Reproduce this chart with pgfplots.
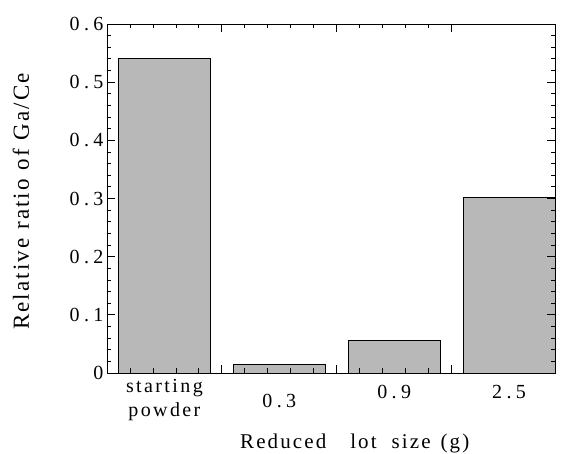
\documentclass[border=0pt]{standalone}
\usepackage{fontspec}
\setmainfont{Liberation Serif}
\newfontfamily\tickfont{Liberation Serif}[LetterSpace=22]
\newfontfamily\wordfont{Liberation Serif}[LetterSpace=12]
\newfontfamily\xlabfont{Liberation Serif}[LetterSpace=10]
\newfontfamily\ylabfont{Liberation Serif}[LetterSpace=9]
\usepackage{pgfplots}
\pgfplotsset{compat=1.18}
\definecolor{barfill}{RGB}{184,184,184}
\pgfplotstableread{
x   y
0.5 0.541
1.5 0.015
2.5 0.056
3.5 0.302
}\ratiodata
\begin{document}
\begin{tikzpicture}
\begin{axis}[
  scale only axis, width=448pt, height=349pt,
  xmin=0, xmax=3.9, ymin=0, ymax=0.6,
  axis on top,
  axis line style={line width=0.9pt},
  tick align=inside,
  major tick length=8pt, minor tick length=4.5pt,
  every tick/.style={black, line width=0.8pt},
  xtick={0,1,2,3}, xticklabels={},
  minor x tick num=4,
  ytick={0,0.1,0.2,0.3,0.4,0.5,0.6},
  yticklabels={0,0.1,0.2,0.3,0.4,0.5,0.6},
  minor y tick num=4,
  ticklabel style={font=\tickfont\fontsize{20}{24}\selectfont},
  yticklabel style={xshift=0pt},
  extra x ticks={0.5,1.5,2.5,3.5},
  extra x tick labels={
    {\raisebox{6pt}{\wordfont\begin{tabular}[t]{@{}c@{}}starting\\powder\end{tabular}}},
    {\raisebox{-9pt}{0.3}},
    {0.9},
    {2.5}},
  extra x tick style={major tick length=0pt,
    xticklabel style={anchor=base, yshift=-26pt, inner sep=0pt}},
  xlabel={Reduced\hspace{24pt}lot\hspace{15pt}size\hspace{10pt}(g)},
  xlabel style={font=\xlabfont\fontsize{21}{25}\selectfont,
    at={(axis description cs:0.2969,0)}, anchor=base west, yshift=-76pt, inner sep=0pt},
  ylabel={Relative\hspace{9pt}ratio\hspace{9pt}of\hspace{9pt}Ga/Ce},
  ylabel style={font=\ylabfont\fontsize{23}{27}\selectfont,
    at={([xshift=-78pt]axis description cs:0,0.123)}, anchor=base west, inner sep=0pt},
]
\addplot[ybar, bar width=0.8, bar shift=0pt, fill=barfill, draw=black, line width=0.8pt] table[x=x, y=y] {\ratiodata};
\end{axis}
\pgfresetboundingbox
\path (current axis.south west) ++(-107pt,-81pt) rectangle ++(565pt,454pt);
\end{tikzpicture}
\end{document}
